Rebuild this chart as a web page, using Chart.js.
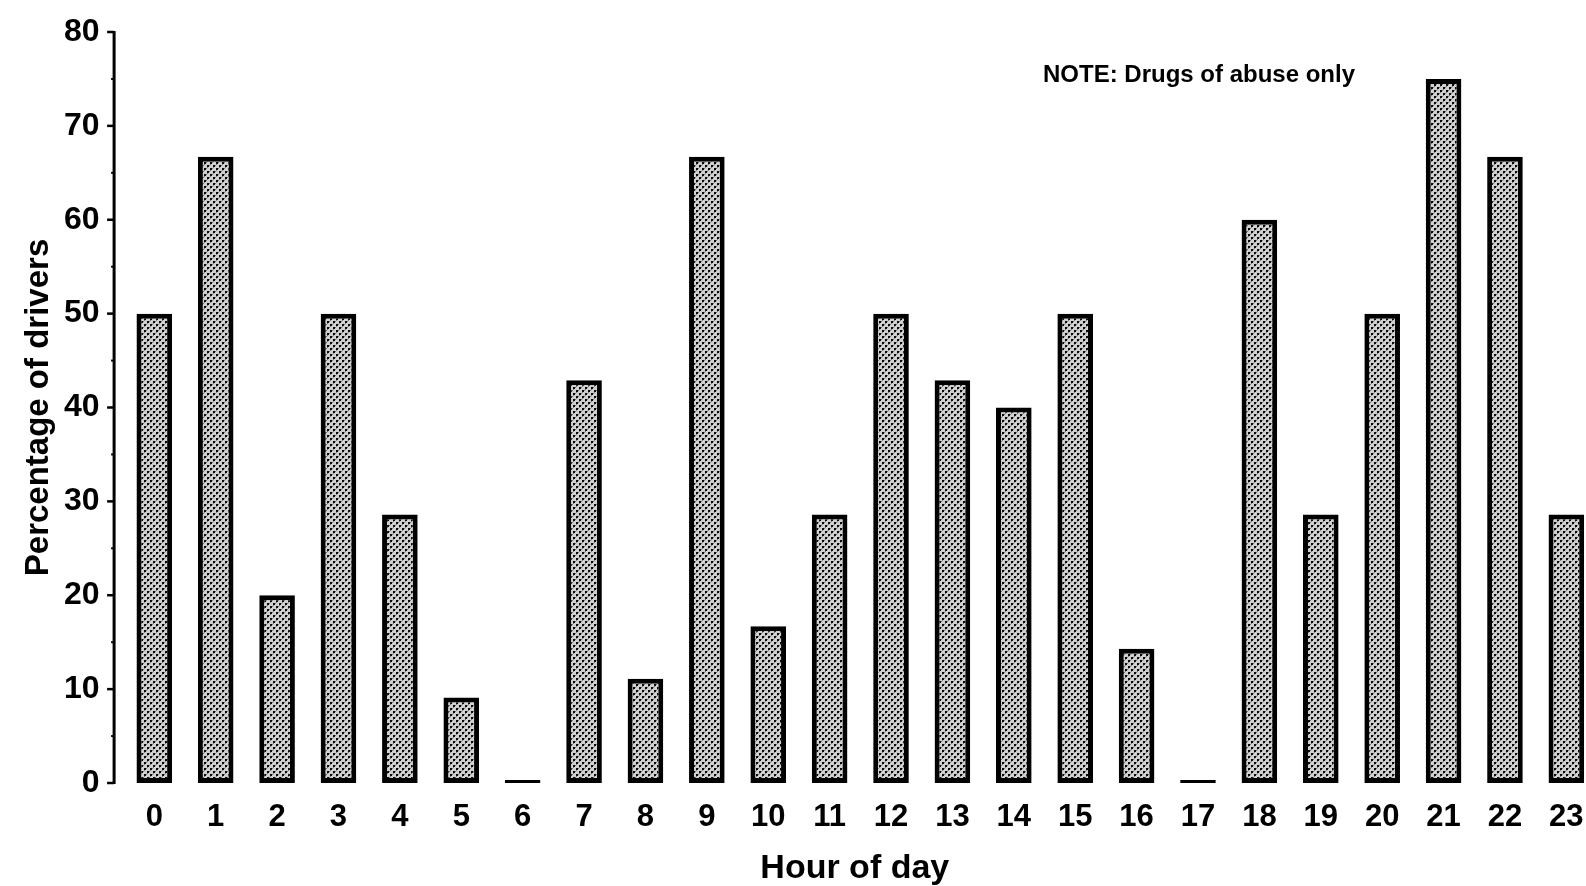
<!DOCTYPE html>
<html>
<head>
<meta charset="utf-8">
<script src="https://cdn.jsdelivr.net/npm/chart.js@4/dist/chart.umd.min.js"></script>
<style>
  html, body { margin: 0; padding: 0; background: #ffffff; overflow: hidden; width: 1586px; height: 886px; }
  #wrap { width: 1586px; height: 886px; position: relative; overflow: hidden; }
  #c { display: block; }
</style>
</head>
<body>
<div id="wrap"><canvas id="c" width="1586" height="886" style="width:1586px;height:886px"></canvas></div>
<script>
const hours = ["0","1","2","3","4","5","6","7","8","9","10","11","12","13","14","15","16","17","18","19","20","21","22","23"];
const percentDrivers = [50, 66.7, 20, 50, 28.6, 9.1, 0, 42.9, 11.1, 66.7, 16.7, 28.6, 50, 42.9, 40, 50, 14.3, 0, 60, 28.6, 50, 75, 66.7, 28.6];
const yTicks = [0, 10, 20, 30, 40, 50, 60, 70, 80];
const noteText = "NOTE: Drugs of abuse only";
const xTitle = "Hour of day";
const yTitle = "Percentage of drivers";

const barPoints = hours.map((h, i) => ({ x: i, y: percentDrivers[i] }));

// stipple pattern fill
function makePattern() {
  const p = document.createElement('canvas');
  p.width = 6; p.height = 6;
  const g = p.getContext('2d');
  g.fillStyle = '#d0d0d0';
  g.fillRect(0, 0, 6, 6);
  g.fillStyle = '#0a0a0a';
  g.fillRect(0, 0, 2, 2);
  g.fillRect(3, 3, 2, 2);
  g.fillStyle = '#777777';
  g.fillRect(2, 0, 1, 1);
  g.fillRect(5, 3, 1, 1);
  g.fillRect(0, 2, 1, 1);
  g.fillRect(3, 5, 1, 1);
  return g.createPattern(p, 'repeat');
}

const FONT = "'Liberation Sans', Arial, sans-serif";

const axisPlugin = {
  id: 'manualAxis',
  afterDraw(chart) {
    const ctx = chart.ctx;
    const y = chart.scales.y;
    const ax = chart.chartArea.left - 9.5;
    const top = y.getPixelForValue(80);
    const bot = y.getPixelForValue(0);
    ctx.save();
    ctx.strokeStyle = '#000';
    ctx.lineWidth = 3;
    ctx.beginPath();
    ctx.moveTo(ax, top - 1);
    ctx.lineTo(ax, bot + 1);
    ctx.stroke();
    ctx.lineWidth = 2.5;
    yTicks.forEach(v => {
      const py = y.getPixelForValue(v);
      ctx.beginPath();
      ctx.moveTo(ax - 7, py);
      ctx.lineTo(ax, py);
      ctx.stroke();
    });
    ctx.lineWidth = 2;
    for (let i = 0; i < yTicks.length - 1; i++) {
      const py = y.getPixelForValue((yTicks[i] + yTicks[i + 1]) / 2);
      ctx.beginPath();
      ctx.moveTo(ax - 3, py);
      ctx.lineTo(ax, py);
      ctx.stroke();
    }
    // note
    ctx.fillStyle = '#000';
    ctx.font = "bold 24px " + FONT;
    ctx.textAlign = 'left';
    ctx.textBaseline = 'middle';
    ctx.fillText(noteText, 1043, 75);
    ctx.restore();
  }
};

new Chart(document.getElementById('c'), {
  type: 'bar',
  data: {
    datasets: [{
      data: barPoints,
      backgroundColor: makePattern(),
      borderColor: '#000',
      borderWidth: 5,
      borderSkipped: false,
      minBarLength: 3,
      categoryPercentage: 1,
      barPercentage: 0.58
    }]
  },
  options: {
    responsive: false,
    maintainAspectRatio: false,
    animation: false,
    devicePixelRatio: 1,
    layout: { padding: { top: 32, right: 0, left: 0, bottom: 0 } },
    plugins: { legend: { display: false }, tooltip: { enabled: false } },
    scales: {
      x: {
        type: 'linear',
        offset: false,
        min: -0.5,
        max: 23.32,
        afterBuildTicks: s => { s.ticks = hours.map((h, i) => ({ value: i })); },
        grid: { display: false, drawTicks: true, tickLength: 16, offset: false },
        border: { display: false },
        ticks: {
          color: '#000', font: { family: FONT, size: 31, weight: 'bold' }, padding: 0,
          maxRotation: 0, autoSkip: false,
          callback: v => hours[v]
        },
        title: { display: true, text: xTitle, color: '#000', font: { family: FONT, size: 34, weight: 'bold', lineHeight: 1.05 }, padding: { top: 0, bottom: 0 } },
        afterFit: s => { s.height = 103; }
      },
      y: {
        min: 0, max: 80,
        afterBuildTicks: s => { s.ticks = yTicks.map(v => ({ value: v })); },
        grid: { display: false, drawTicks: true, tickLength: 24 },
        border: { display: false },
        ticks: { color: '#000', font: { family: FONT, size: 32, weight: 'bold' }, padding: 0 },
        title: { display: true, text: yTitle, color: '#000', font: { family: FONT, size: 33, weight: 'bold' }, padding: { top: 19, bottom: 0 } },
        afterFit: s => { s.width = 123.6; }
      }
    }
  },
  plugins: [axisPlugin]
});
</script>
</body>
</html>
